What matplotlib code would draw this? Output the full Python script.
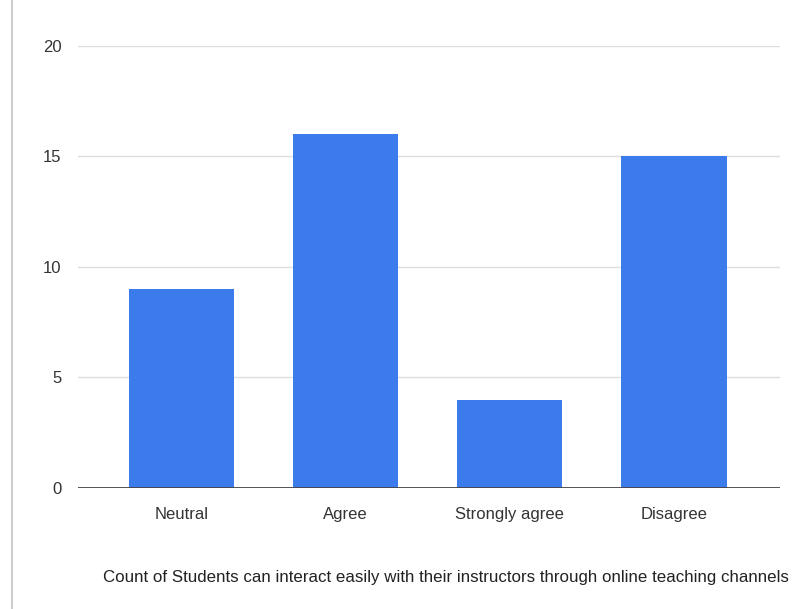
import matplotlib.pyplot as plt
from matplotlib.lines import Line2D

categories = ["Neutral", "Agree", "Strongly agree", "Disagree"]
counts = [9, 16, 4, 15]
yticks = [0, 5, 10, 15, 20]
title = "Count of Students can interact easily with their instructors through online teaching channels"

plt.rcParams["font.family"] = ["Liberation Sans", "DejaVu Sans"]

fig = plt.figure(figsize=(7.97, 6.09), dpi=100)
ax = fig.add_axes([0.098, 0.1987, 0.881, 0.7258])

ax.bar(range(len(categories)), counts, width=0.645, color="#3b7bec", zorder=3)

ax.set_xlim(-0.63, 3.65)
ax.set_ylim(0, 20)
ax.set_yticks(yticks)
ax.set_xticks(range(len(categories)))
ax.set_xticklabels(categories, fontsize=12, color="#333333")
ax.tick_params(axis="y", labelsize=12, labelcolor="#333333", length=0, pad=12)
ax.tick_params(axis="x", length=0, pad=14)

for y in yticks[1:]:
    ax.axhline(y, color="#dedede", linewidth=1, zorder=1)
ax.axhline(0, color="#444444", linewidth=2, zorder=4)

for s in ax.spines.values():
    s.set_visible(False)

# faint border line on the left edge of the screenshot
fig.add_artist(Line2D([0.015, 0.015], [0, 1], color="#cfcfcf", linewidth=1.5))

fig.text(0.129, 0.052, title, fontsize=12.2, color="#222222", ha="left", va="center")

fig.savefig("out.png", dpi=100)
